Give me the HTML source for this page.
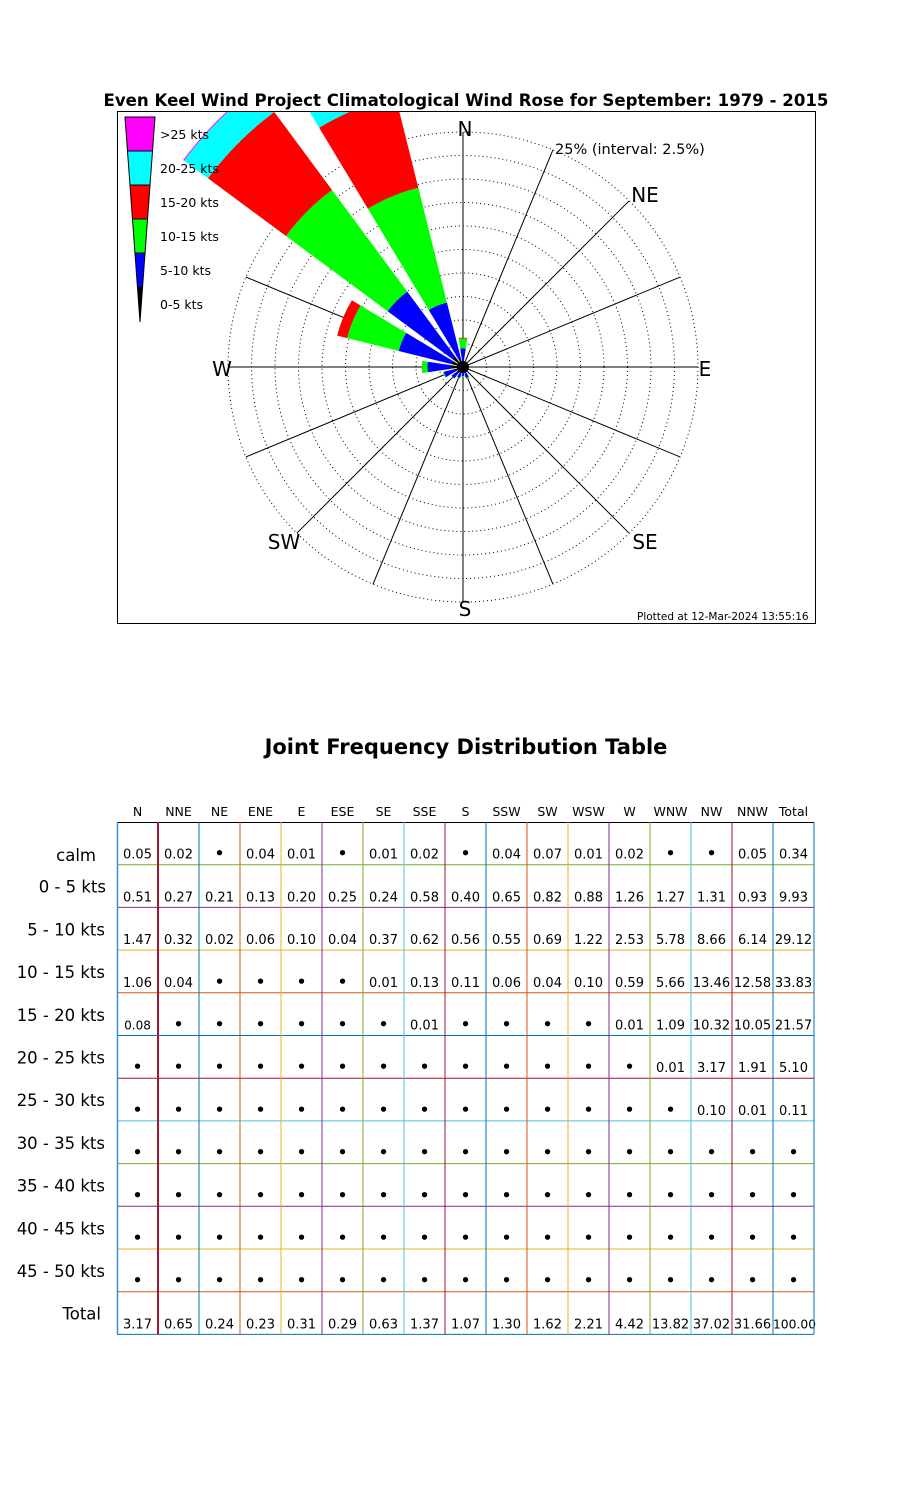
<!DOCTYPE html>
<html><head><meta charset="utf-8">
<style>
html,body{margin:0;padding:0;background:#fff;}
body{width:900px;height:1500px;position:relative;overflow:hidden;font-family:"DejaVu Sans","Liberation Sans",sans-serif;}
svg{position:absolute;left:0;top:0;}
</style></head>
<body>
<svg id="s" width="900" height="1500" xmlns="http://www.w3.org/2000/svg" font-family="DejaVu Sans, Liberation Sans, sans-serif">
<defs><clipPath id="ax"><rect x="118" y="112" width="697" height="511"/></clipPath></defs>
<text x="466" y="106" text-anchor="middle" font-weight="bold" font-size="16.6">Even Keel Wind Project Climatological Wind Rose for September: 1979 - 2015</text>
<rect x="117.5" y="111.5" width="698" height="512" fill="none" stroke="#000" stroke-width="1"/>
<g id="grid"></g>
<g id="wedges" clip-path="url(#ax)"></g>
<g id="legend"></g>
<g font-size="20">
<text x="465" y="136" text-anchor="middle">N</text>
<text x="645" y="202" text-anchor="middle">NE</text>
<text x="705" y="376" text-anchor="middle">E</text>
<text x="645" y="549" text-anchor="middle">SE</text>
<text x="465" y="616" text-anchor="middle">S</text>
<text x="284" y="549" text-anchor="middle">SW</text>
<text x="222" y="376" text-anchor="middle">W</text>
</g>
<text x="555" y="154" font-size="14.5">25% (interval: 2.5%)</text>
<text x="637" y="620" font-size="10.5">Plotted at 12-Mar-2024 13:55:16</text>
<text x="466" y="754" text-anchor="middle" font-weight="bold" font-size="21">Joint Frequency Distribution Table</text>
<g id="table"></g>
</svg>
<script>
var NS="http://www.w3.org/2000/svg";
function el(p,t,a,txt){var e=document.createElementNS(NS,t);for(var k in a)e.setAttribute(k,a[k]);if(txt!==undefined)e.textContent=txt;p.appendChild(e);return e;}
var cx=463,cy=367,R=235,sc=R/25;
var g=document.getElementById('grid');
for(var i=1;i<=10;i++)el(g,'circle',{cx:cx,cy:cy,r:R*i/10,fill:'none',stroke:'#000','stroke-width':1,'stroke-dasharray':'1 3'});
for(var d=0;d<16;d++){var t=d*22.5*Math.PI/180;el(g,'line',{x1:cx,y1:cy,x2:cx+R*Math.sin(t),y2:cy-R*Math.cos(t),stroke:'#000','stroke-width':1});}
var cols=['#000','#0000ff','#00ff00','#ff0000','#00ffff','#ff00ff'];
var data=[[.51,1.47,1.06,.08,0,0],[.27,.32,.04,0,0,0],[.21,.02,0,0,0,0],[.13,.06,0,0,0,0],[.20,.10,0,0,0,0],[.25,.04,0,0,0,0],[.24,.37,.01,0,0,0],[.58,.62,.13,.01,0,0],[.40,.56,.11,0,0,0],[.65,.55,.06,0,0,0],[.82,.69,.04,0,0,0],[.88,1.22,.10,0,0,0],[1.26,2.53,.59,.01,0,0],[1.27,5.78,5.66,1.09,.01,0],[1.31,8.66,13.46,10.32,3.17,.10],[.93,6.14,12.58,10.05,1.91,.01]];
var w=document.getElementById('wedges');
function pt(r,a){var t=a*Math.PI/180;return (cx+r*Math.sin(t)).toFixed(2)+','+(cy-r*Math.cos(t)).toFixed(2);}
for(var d=0;d<16;d++){var c=0,a=d*22.5,h=8.5;
 for(var k=0;k<6;k++){var v=data[d][k];if(v<=0)continue;var r0=c*sc,r1=(c+v)*sc;c+=v;
  var p='M'+pt(r0,a-h)+' L'+pt(r1,a-h)+' A'+r1+','+r1+' 0 0 1 '+pt(r1,a+h)+' L'+pt(r0,a+h);
  if(r0>0)p+=' A'+r0+','+r0+' 0 0 0 '+pt(r0,a-h);p+='Z';
  el(w,'path',{d:p,fill:cols[k]});}}
el(w,'circle',{cx:cx,cy:cy,r:6,fill:'#000'});
var L=document.getElementById('legend');var lt=117,lb=322,xc=140,W0=30;
var labs=['>25 kts','20-25 kts','15-20 kts','10-15 kts','5-10 kts','0-5 kts'];
for(var i=0;i<6;i++){var y0=lt+i*34,y1=y0+34;if(i==5)y1=lb;
 var w0=W0*(lb-y0)/(lb-lt)/2,w1=W0*(lb-y1)/(lb-lt)/2;
 el(L,'polygon',{points:(xc-w0)+','+y0+' '+(xc+w0)+','+y0+' '+(xc+w1)+','+y1+' '+(xc-w1)+','+y1,fill:cols[5-i],stroke:'#000','stroke-width':1});
 el(L,'text',{x:160,y:y0+22,'font-size':12.5},labs[i]);}
var T=document.getElementById('table');
var mc=['#0072BD','#D95319','#EDB120','#7E2F8E','#77AC30','#4DBEEE','#A2142F'];
var hdr=['N','NNE','NE','ENE','E','ESE','SE','SSE','S','SSW','SW','WSW','W','WNW','NW','NNW','Total'];
var rl=['calm','0 - 5  kts','5 - 10 kts','10 - 15 kts','15 - 20 kts','20 - 25 kts','25 - 30 kts','30 - 35 kts','35 - 40 kts','40 - 45 kts','45 - 50 kts','Total'];
var rx=[96,106,105,105,105,105,105,105,105,105,105,101];
var rows=[
'0.05 0.02 • 0.04 0.01 • 0.01 0.02 • 0.04 0.07 0.01 0.02 • • 0.05 0.34',
'0.51 0.27 0.21 0.13 0.20 0.25 0.24 0.58 0.40 0.65 0.82 0.88 1.26 1.27 1.31 0.93 9.93',
'1.47 0.32 0.02 0.06 0.10 0.04 0.37 0.62 0.56 0.55 0.69 1.22 2.53 5.78 8.66 6.14 29.12',
'1.06 0.04 • • • • 0.01 0.13 0.11 0.06 0.04 0.10 0.59 5.66 13.46 12.58 33.83',
'0.08 • • • • • • 0.01 • • • • 0.01 1.09 10.32 10.05 21.57',
'• • • • • • • • • • • • • 0.01 3.17 1.91 5.10',
'• • • • • • • • • • • • • • 0.10 0.01 0.11',
'• • • • • • • • • • • • • • • • •',
'• • • • • • • • • • • • • • • • •',
'• • • • • • • • • • • • • • • • •',
'• • • • • • • • • • • • • • • • •',
'3.17 0.65 0.24 0.23 0.31 0.29 0.63 1.37 1.07 1.30 1.62 2.21 4.42 13.82 37.02 31.66 100.00'];
var X0=117,CW=41,Y0=822,RH=42.7;
for(var j=0;j<17;j++)el(T,'text',{x:X0+CW*j+CW/2,y:816,'text-anchor':'middle','font-size':12.5},hdr[j]);
for(var i=0;i<12;i++){var yt=Y0+RH*i;
 el(T,'text',{x:rx[i],y:yt+(i==0?39:28),'text-anchor':'end','font-size':16.5},rl[i]);
 var vs=rows[i].split(' ');
 for(var j=0;j<17;j++){var v=vs[j];var fs=v=='•'?15:(v.length>=6?12.3:13);if(i==4&&j==0)fs=12;
  el(T,'text',{x:X0+CW*j+CW/2+(v.length>=6?1:0),y:yt+RH-6,'text-anchor':'middle','font-size':fs,'font-weight':v=='•'?'bold':'normal'},v);}}
el(T,'line',{x1:X0,x2:X0+CW*17,y1:Y0+.5,y2:Y0+.5,stroke:'#000','stroke-width':1});
var hseq=[4,3,2,1,0,6,5,4,3,2,1,0];
for(var i=1;i<=12;i++){var y=Y0+RH*i;el(T,'line',{x1:X0,x2:X0+CW*17,y1:y,y2:y,stroke:mc[hseq[i-1]],'stroke-width':1});}
el(T,'line',{x1:X0+.5,x2:X0+.5,y1:Y0,y2:Y0+RH*12,stroke:'#3a8fd0','stroke-width':1.5});
for(var j=1;j<=17;j++){var x=X0+CW*j;var col=j==17?mc[0]:mc[(j+5)%7];el(T,'line',{x1:x,x2:x,y1:Y0,y2:Y0+RH*12,stroke:col,'stroke-width':j==1?2:1});}
</script>
</body></html>
